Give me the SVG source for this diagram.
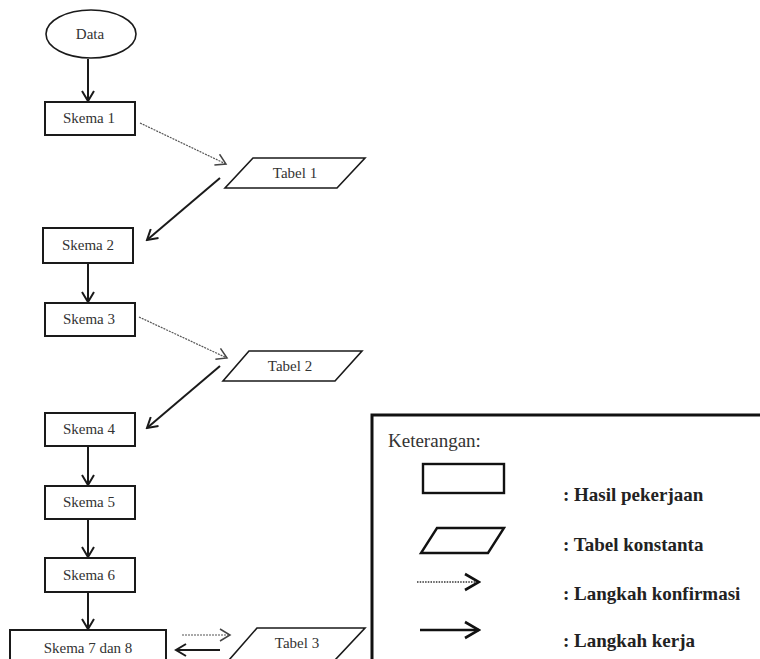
<svg xmlns="http://www.w3.org/2000/svg" width="760" height="659" viewBox="0 0 760 659">
<defs>
<style>
.box{fill:#fff;stroke:#1a1a1a;stroke-width:2}
.para{fill:#fff;stroke:#1a1a1a;stroke-width:1.6}
.lbl{font-family:"Liberation Serif","Times New Roman",serif;font-size:15px;fill:#333;text-anchor:middle}
.solid{stroke:#1a1a1a;stroke-width:2;fill:none}
.dot{stroke:#555;stroke-width:1.2;stroke-dasharray:2 1;fill:none}
.leg{font-family:"Liberation Serif","Times New Roman",serif;font-size:19px;font-weight:bold;fill:#222}
</style>
<marker id="hs" markerUnits="userSpaceOnUse" markerWidth="14" markerHeight="14" viewBox="0 0 14 14" refX="12" refY="7" orient="auto">
<path d="M2,1 L12,7 L2,13" fill="none" stroke="#1a1a1a" stroke-width="2"/>
</marker>
<marker id="hd" markerUnits="userSpaceOnUse" markerWidth="14" markerHeight="14" viewBox="0 0 14 14" refX="12" refY="7" orient="auto">
<path d="M2,1 L12,7 L2,13" fill="none" stroke="#444" stroke-width="1.5"/>
</marker>
<marker id="hl" markerUnits="userSpaceOnUse" markerWidth="18" markerHeight="20" viewBox="0 0 18 20" refX="16" refY="10" orient="auto">
<path d="M2,2 L16,10 L2,18" fill="none" stroke="#111" stroke-width="2.6"/>
</marker>
</defs>
<rect width="760" height="659" fill="#fff"/>
<g id="connectors">
<line class="solid" x1="88" y1="59" x2="88" y2="101" marker-end="url(#hs)"/>
<line class="dot" x1="140" y1="123" x2="226" y2="164" marker-end="url(#hd)"/>
<line class="solid" x1="220" y1="178" x2="147" y2="240" marker-end="url(#hs)"/>
<line class="solid" x1="88" y1="263" x2="88" y2="302" marker-end="url(#hs)"/>
<line class="dot" x1="139" y1="317" x2="227" y2="358" marker-end="url(#hd)"/>
<line class="solid" x1="220" y1="366" x2="147" y2="428" marker-end="url(#hs)"/>
<line class="solid" x1="88" y1="446" x2="88" y2="485" marker-end="url(#hs)"/>
<line class="solid" x1="88" y1="519" x2="88" y2="557" marker-end="url(#hs)"/>
<line class="solid" x1="88" y1="592" x2="88" y2="629" marker-end="url(#hs)"/>
<line class="dot" x1="182" y1="635" x2="230" y2="635" marker-end="url(#hd)"/>
<line class="solid" x1="220" y1="650" x2="176" y2="650" marker-end="url(#hs)"/>
</g>
<g id="data"><ellipse cx="91" cy="34" rx="45" ry="24" fill="#fff" stroke="#1a1a1a" stroke-width="1.6"/><text class="lbl" x="90" y="39">Data</text></g>
<g id="skema1"><rect class="box" x="45" y="102" width="90" height="33"/><text class="lbl" x="89" y="123">Skema 1</text></g>
<g id="tabel1"><polygon class="para" points="253,158 365,158 337,188 225,188"/><text class="lbl" x="295" y="178">Tabel 1</text></g>
<g id="skema2"><rect class="box" x="43" y="228" width="90" height="35"/><text class="lbl" x="88" y="250">Skema 2</text></g>
<g id="skema3"><rect class="box" x="45" y="303" width="90" height="33"/><text class="lbl" x="89" y="324">Skema 3</text></g>
<g id="tabel2"><polygon class="para" points="249,351 362,351 335,381 223,381"/><text class="lbl" x="290" y="371">Tabel 2</text></g>
<g id="skema4"><rect class="box" x="45" y="413" width="90" height="33"/><text class="lbl" x="89" y="434">Skema 4</text></g>
<g id="skema5"><rect class="box" x="45" y="486" width="90" height="33"/><text class="lbl" x="89" y="507">Skema 5</text></g>
<g id="skema6"><rect class="box" x="45" y="558" width="90" height="34"/><text class="lbl" x="89" y="580">Skema 6</text></g>
<g id="skema78"><rect class="box" x="10" y="630" width="156" height="40"/><text class="lbl" x="88" y="653">Skema 7 dan 8</text></g>
<g id="tabel3"><polygon class="para" points="257,628 365,628 335,660 229,660"/><text class="lbl" x="297" y="648">Tabel 3</text></g>
<g id="legend">
<rect x="372" y="415" width="400" height="260" fill="#fff" stroke="#111" stroke-width="3"/>
<text x="388" y="447" font-family="'Liberation Serif','Times New Roman',serif" font-size="19" fill="#333">Keterangan:</text>
<rect x="423" y="464" width="81" height="29" fill="#fff" stroke="#111" stroke-width="2.4"/>
<polygon points="437,528 504,528 488,553 421,553" fill="#fff" stroke="#111" stroke-width="2.4"/>
<line x1="417" y1="582" x2="479" y2="582" stroke="#333" stroke-width="1.6" stroke-dasharray="1.5 1.2" marker-end="url(#hl)"/>
<line x1="420" y1="630" x2="479" y2="630" stroke="#111" stroke-width="2.6" marker-end="url(#hl)"/>
<text class="leg" x="563" y="501">: Hasil pekerjaan</text>
<text class="leg" x="563" y="551">: Tabel konstanta</text>
<text class="leg" x="563" y="600">: Langkah konfirmasi</text>
<text class="leg" x="563" y="647">: Langkah kerja</text>
</g>
</svg>
